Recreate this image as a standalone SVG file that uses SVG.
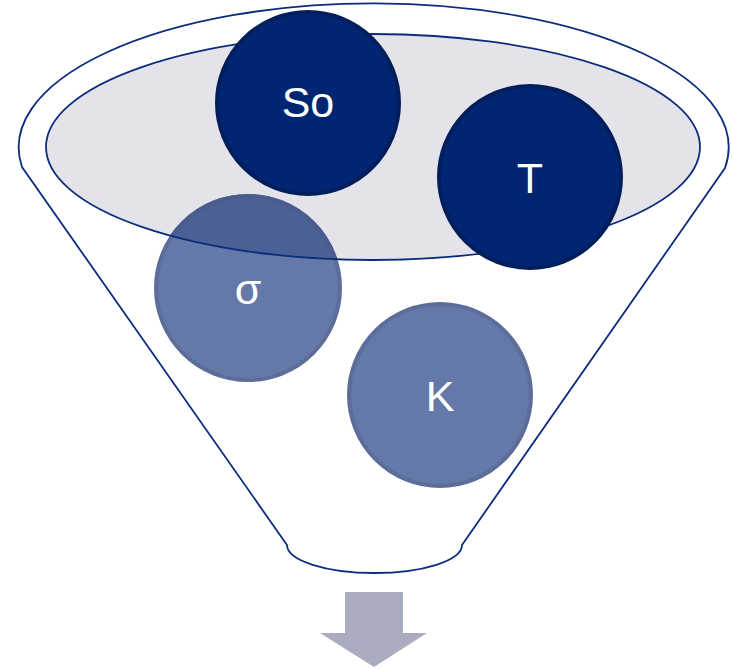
<svg xmlns="http://www.w3.org/2000/svg" width="732" height="669" viewBox="0 0 732 669">
  <style>
    .outline { fill: none; stroke: #0b2d7c; stroke-width: 1.8; }
    .dark { fill: #002673; stroke: #001e5c; stroke-width: 4; }
    .light { fill: #6479a8; stroke: #5d6d99; stroke-width: 4; }
    .label { fill: #ffffff; font-family: "Liberation Sans", Arial, sans-serif; font-size: 43px; text-anchor: middle; }
  </style>
  <defs>
    <clipPath id="rim-clip">
      <ellipse cx="373" cy="147" rx="327" ry="113"/>
    </clipPath>
  </defs>

  <!-- funnel body -->
  <g id="funnel">
    <path class="outline" fill="#ffffff" d="M22,167 A355,144 0 1 1 725,168 L462,545 A87.5,28 0 0 1 287,545 Z"/>
    <ellipse id="rim-fill" cx="373" cy="147" rx="327" ry="113" fill="#e4e3ea"/>
  </g>

  <!-- sigma sits partly inside the rim -->
  <g id="node-sigma">
    <circle class="light" cx="248" cy="288" r="92"/>
    <g clip-path="url(#rim-clip)">
      <circle cx="248" cy="288" r="92" fill="#4b6196" stroke="#4a5b8c" stroke-width="4"/>
    </g>
    <text class="label" x="248" y="304">σ</text>
  </g>

  <g id="rim-outline">
    <ellipse class="outline" cx="373" cy="147" rx="327" ry="113"/>
  </g>

  <g id="node-so">
    <circle class="dark" cx="308" cy="103" r="91"/>
    <text class="label" x="308" y="117">So</text>
  </g>

  <g id="node-t">
    <circle class="dark" cx="530" cy="177" r="91"/>
    <text class="label" x="530" y="193">T</text>
  </g>

  <g id="node-k">
    <circle class="light" cx="440" cy="395" r="91"/>
    <text class="label" x="440" y="411">K</text>
  </g>

  <!-- output arrow -->
  <g id="connectors">
    <path d="M345,592 H403 V633 H427 L374,667 L320,633 H345 Z" fill="#aaacbf"/>
  </g>
</svg>
